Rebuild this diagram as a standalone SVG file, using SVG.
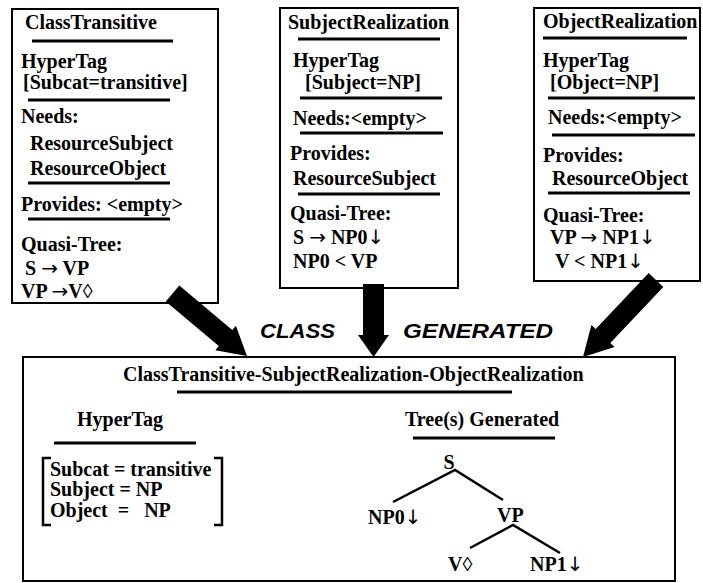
<svg xmlns="http://www.w3.org/2000/svg" width="703" height="583" viewBox="0 0 703 583">
<style>
.box{fill:#fff;stroke:#000;stroke-width:2}
.t{font-family:"Liberation Serif","Times New Roman",serif;font-weight:bold;font-size:20px;fill:#000}
.s{font-family:"DejaVu Sans",sans-serif;font-weight:normal}
.sep{stroke:#000;stroke-width:3}
.tree{stroke:#000;stroke-width:2.5;fill:none}
.lbl{font-family:"Liberation Sans",Arial,sans-serif;font-weight:bold;font-style:italic;font-size:21px;fill:#000}
.arr{fill:#000;stroke:none}
</style>
<rect width="703" height="583" fill="#fff"/>
<g id="classTransitive">
<rect class="box" x="12" y="9" width="206" height="294"/>
<text class="t" x="25" y="29">ClassTransitive</text>
<line class="sep" x1="32" y1="41" x2="173" y2="41"/>
<text class="t" x="21" y="68">HyperTag</text>
<text class="t" x="23" y="89">[Subcat=transitive]</text>
<line class="sep" x1="28" y1="100" x2="170" y2="100"/>
<text class="t" x="21" y="123">Needs:</text>
<text class="t" x="30" y="150">ResourceSubject</text>
<text class="t" x="30" y="175">ResourceObject</text>
<line class="sep" x1="28" y1="183" x2="170" y2="183"/>
<text class="t" x="21" y="211">Provides: &lt;empty&gt;</text>
<line class="sep" x1="28" y1="219" x2="170" y2="219"/>
<text class="t" x="21" y="251">Quasi-Tree:</text>
<text class="t" x="25" y="275">S <tspan class="s">→</tspan> VP</text>
<text class="t" x="21" y="298">VP <tspan class="s">→</tspan>V◊</text>
</g>
<g id="subjectRealization">
<rect class="box" x="280" y="8" width="178" height="280"/>
<text class="t" x="288" y="29">SubjectRealization</text>
<line class="sep" x1="298" y1="39" x2="440" y2="39"/>
<text class="t" x="293" y="67">HyperTag</text>
<text class="t" x="305" y="89">[Subject=NP]</text>
<line class="sep" x1="300" y1="98" x2="442" y2="98"/>
<text class="t" x="293" y="125">Needs:&lt;empty&gt;</text>
<line class="sep" x1="300" y1="133" x2="443" y2="133"/>
<text class="t" x="290" y="160">Provides:</text>
<text class="t" x="293" y="185">ResourceSubject</text>
<line class="sep" x1="298" y1="194" x2="440" y2="194"/>
<text class="t" x="290" y="220">Quasi-Tree:</text>
<text class="t" x="293" y="244">S <tspan class="s">→</tspan> NP0<tspan class="s">↓</tspan></text>
<text class="t" x="293" y="268">NP0 &lt; VP</text>
</g>
<g id="objectRealization">
<rect class="box" x="534" y="8" width="166" height="273"/>
<text class="t" x="543" y="28">ObjectRealization</text>
<line class="sep" x1="543" y1="38" x2="687" y2="38"/>
<text class="t" x="543" y="67">HyperTag</text>
<text class="t" x="550" y="89">[Object=NP]</text>
<line class="sep" x1="548" y1="98" x2="695" y2="98"/>
<text class="t" x="548" y="124">Needs:&lt;empty&gt;</text>
<line class="sep" x1="552" y1="135" x2="695" y2="135"/>
<text class="t" x="543" y="162">Provides:</text>
<text class="t" x="552" y="185">ResourceObject</text>
<line class="sep" x1="548" y1="193" x2="690" y2="193"/>
<text class="t" x="543" y="222">Quasi-Tree:</text>
<text class="t" x="550" y="244">VP <tspan class="s">→</tspan> NP1<tspan class="s">↓</tspan></text>
<text class="t" x="555" y="268">V &lt; NP1<tspan class="s">↓</tspan></text>
</g>
<g id="generated">
<rect class="box" x="23" y="357" width="652" height="224"/>
<text class="t" x="123" y="381">ClassTransitive-SubjectRealization-ObjectRealization</text>
<line class="sep" x1="177" y1="392" x2="512" y2="392"/>
<text class="t" x="77" y="426">HyperTag</text>
<line class="sep" x1="54" y1="443" x2="196" y2="443"/>
<path class="tree" d="M51,458 H43 V525 H51 M214,458 H222 V525 H214" stroke-width="2"/>
<text class="t" x="50" y="476">Subcat = transitive</text>
<text class="t" x="50" y="496">Subject = NP</text>
<text class="t" x="50" y="517" xml:space="preserve">Object  =   NP</text>
<text class="t" x="405" y="426">Tree(s) Generated</text>
<line class="sep" x1="413" y1="438" x2="555" y2="438"/>
<text class="t" x="449" y="469" text-anchor="middle">S</text>
<path class="tree" d="M393,502 L455,470 L503,500 M470,548 L513,525 L560,553"/>
<text class="t" x="368" y="524">NP0<tspan class="s">↓</tspan></text>
<text class="t" x="497" y="522">VP</text>
<text class="t" x="448" y="571">V◊</text>
<text class="t" x="530" y="571">NP1<tspan class="s">↓</tspan></text>
</g>
<g id="connectors">
<polygon class="arr" points="179.3,285.5 232.3,330 235.9,325.7 247,356 215.3,350.3 218.8,346 165.8,301.5"/>
<polygon class="arr" points="363,284 384,284 384,335 389,335 373.5,357 358,335 363,335"/>
<polygon class="arr" points="648.7,273.1 595.7,329.1 591.4,325 583,357 614.6,347 610.3,342.9 663.3,286.9"/>
<text class="lbl" x="260" y="338" textLength="75" lengthAdjust="spacingAndGlyphs">CLASS</text>
<text class="lbl" x="403" y="338" textLength="150" lengthAdjust="spacingAndGlyphs">GENERATED</text>
</g>
</svg>
